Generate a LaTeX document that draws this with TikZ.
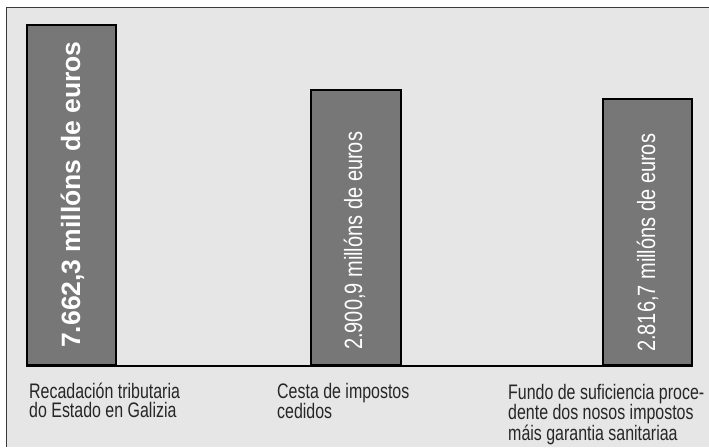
\documentclass[tikz,border=0pt]{standalone}
\usepackage{fontspec}
\setmainfont{Liberation Sans}
\newfontfamily\condfont[FakeStretch=0.76]{Liberation Sans}
\newfontfamily\condbarfont[FakeStretch=0.80]{Liberation Sans}
\definecolor{panelbg}{HTML}{E6E6E6}
\definecolor{barfill}{HTML}{777777}
\definecolor{framecol}{HTML}{3A3A3A}
\tikzset{
  bar/.style={fill=barfill, draw=black, line width=1.1pt},
  bartext/.style={rotate=90, anchor=base west, inner sep=0pt, text=white},
  catlabel/.style={anchor=base west, inner sep=0pt, text=black!85},
}
\newcommand{\twolines}[2]{\vtop{\baselineskip=19.5pt\hbox{#1}\hbox{#2}}}
\newcommand{\threelines}[3]{\vtop{\baselineskip=19.5pt\hbox{#1}\hbox{#2}\hbox{#3}}}
\begin{document}
\begin{tikzpicture}[x=1pt,y=-1pt]
\useasboundingbox (0,0) rectangle (709,447);
\fill[white] (0,0) rectangle (709,447);
\fill[panelbg] (6.5,7.5) rectangle (709,447);
\draw[framecol, line width=1.5pt] (709,7.5) -- (6.5,7.5) -- (6.5,447);
% bars
\draw[bar] (27,25) rectangle (116,365);
\draw[bar] (311,90) rectangle (401,365);
\draw[bar] (603,99) rectangle (692,365);
% baseline
\coordinate (axL) at (26,365.5);
\coordinate (axR) at (693,365.5);
\draw[black, line width=2pt] (axL) -- (axR);
% bar texts
\node[bartext, font=\fontsize{26.5}{28}\selectfont\bfseries] (t1) at (80,348) {7.662,3 millóns de euros};
\node[bartext, font=\fontsize{25}{26}\condbarfont] (t2) at (362,350) {2.900,9 millóns de euros};
\node[bartext, font=\fontsize{25}{26}\condbarfont] (t3) at (655,352) {2.816,7 millóns de euros};
% category labels
\node[catlabel, font=\fontsize{21}{19.5}\condfont] (l1) at (29,398) {\twolines{Recadación tributaria}{do Estado en Galizia}};
\node[catlabel, font=\fontsize{21}{19.5}\condfont] (l2) at (277,398) {\twolines{Cesta de impostos}{cedidos}};
\node[catlabel, font=\fontsize{21}{19.5}\condfont] (l3) at (508,399) {\threelines{Fundo de suficiencia proce-}{dente dos nosos impostos}{máis garantia sanitariaa}};
\end{tikzpicture}
\end{document}
